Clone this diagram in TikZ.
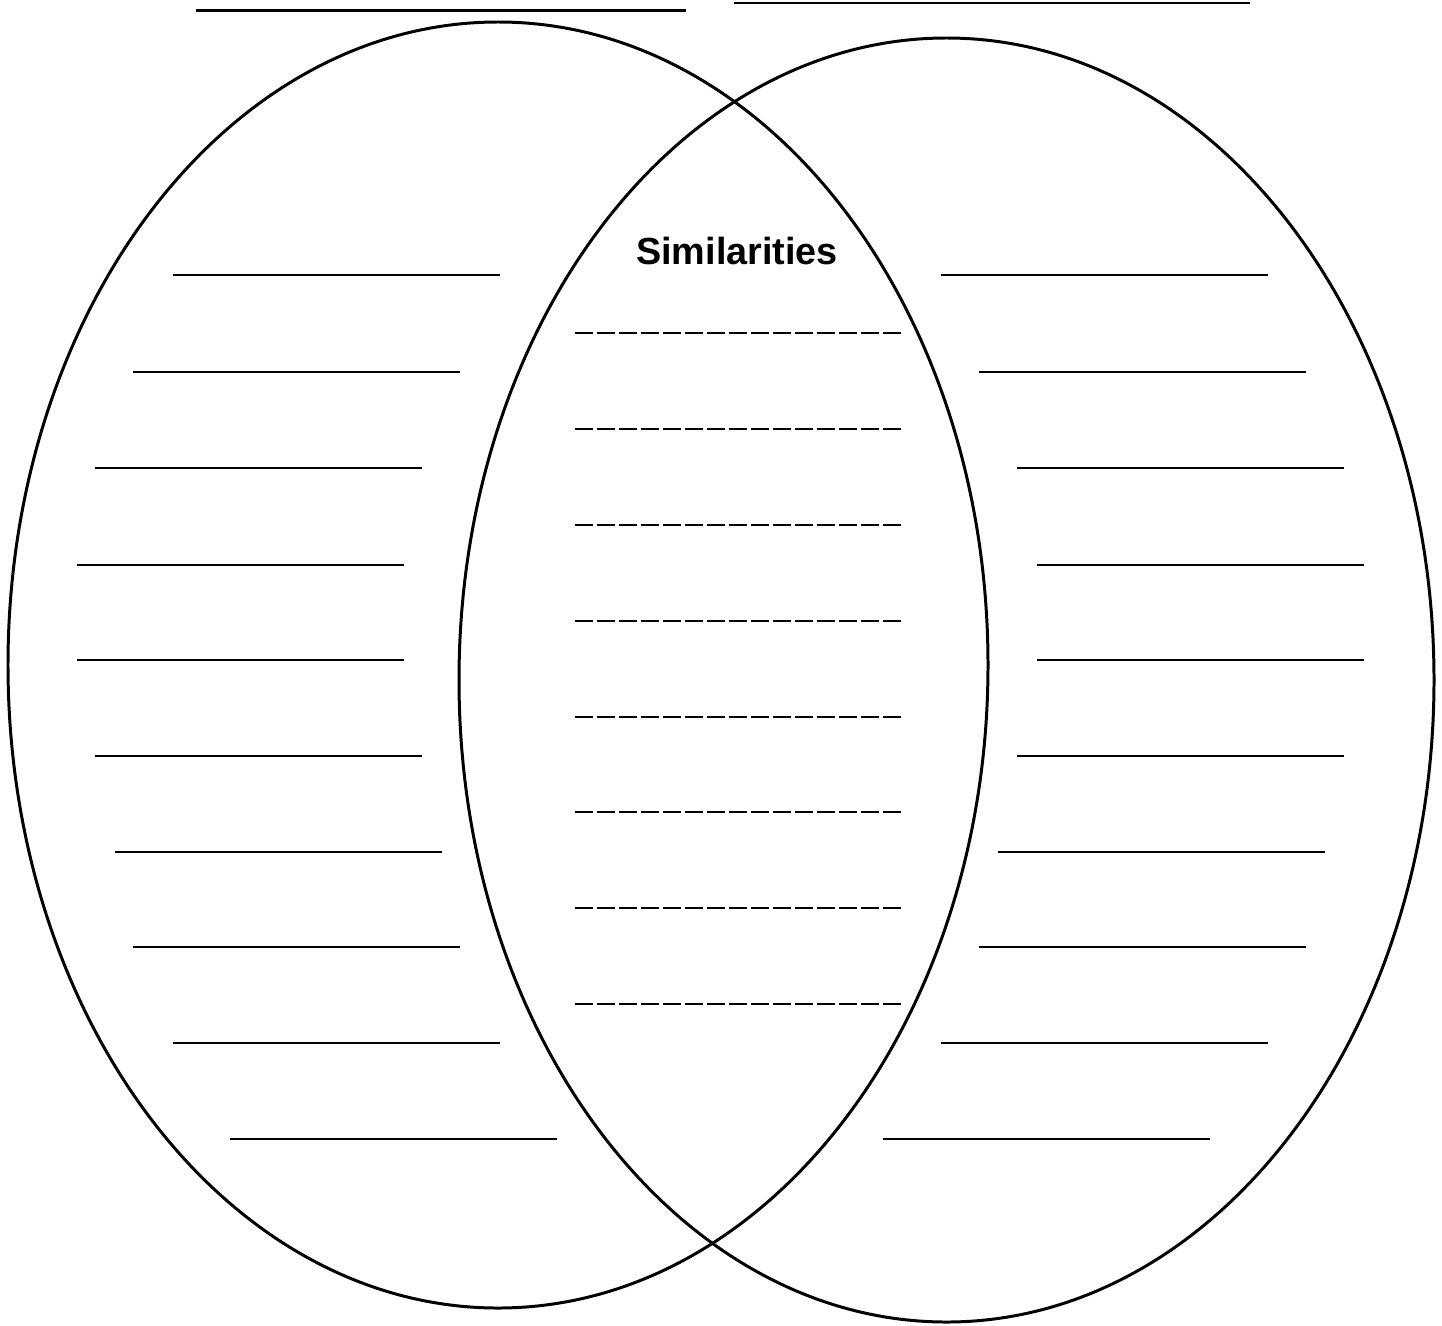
\documentclass[tikz,border=0pt]{standalone}
\usepackage{fontspec}
\setmainfont{Liberation Sans}
\usetikzlibrary{shapes.geometric}

\begin{document}
\begin{tikzpicture}[
    x=0.02cm, y=-0.02cm,
    circ/.style={draw,ellipse,line width=1.7pt,inner sep=0pt},
    wline/.style={line width=1.5pt},
    dline/.style={line width=1.6pt,dash pattern=on 0.36cm off 0.08cm},
]
\useasboundingbox (0,0) rectangle (1442,1325);

% ---- the two sets ----
\node[circ,minimum width=980*0.02cm,minimum height=1286*0.02cm] (setA) at (498,665) {};
\node[circ,minimum width=975*0.02cm,minimum height=1284*0.02cm] (setB) at (946.5,680) {};

% ---- title blanks ----
\draw[wline] (196,10.5) -- (686,10.5);
\draw[wline] (734,3) -- (1250,3);

% ---- middle ----
\node[font=\bfseries\fontsize{21.5}{24}\selectfont] (sim) at (737,251) {Similarities};
\foreach \y in {333,429,525,621,717,812,908,1004}
  \draw[dline] (575,\y) -- (901,\y);

% ---- left set blanks ----
\foreach \y/\xa in {275/173,372/133,468/95,565/77,660/77,756/95,852/115,947/133,1043/173,1139/230}
  \draw[wline] (\xa,\y) -- ++(327,0);

% ---- right set blanks ----
\foreach \y/\xa in {275/941,372/979,468/1017,565/1037,660/1037,756/1017,852/998,947/979,1043/941,1139/883}
  \draw[wline] (\xa,\y) -- ++(327,0);

\end{tikzpicture}
\end{document}
